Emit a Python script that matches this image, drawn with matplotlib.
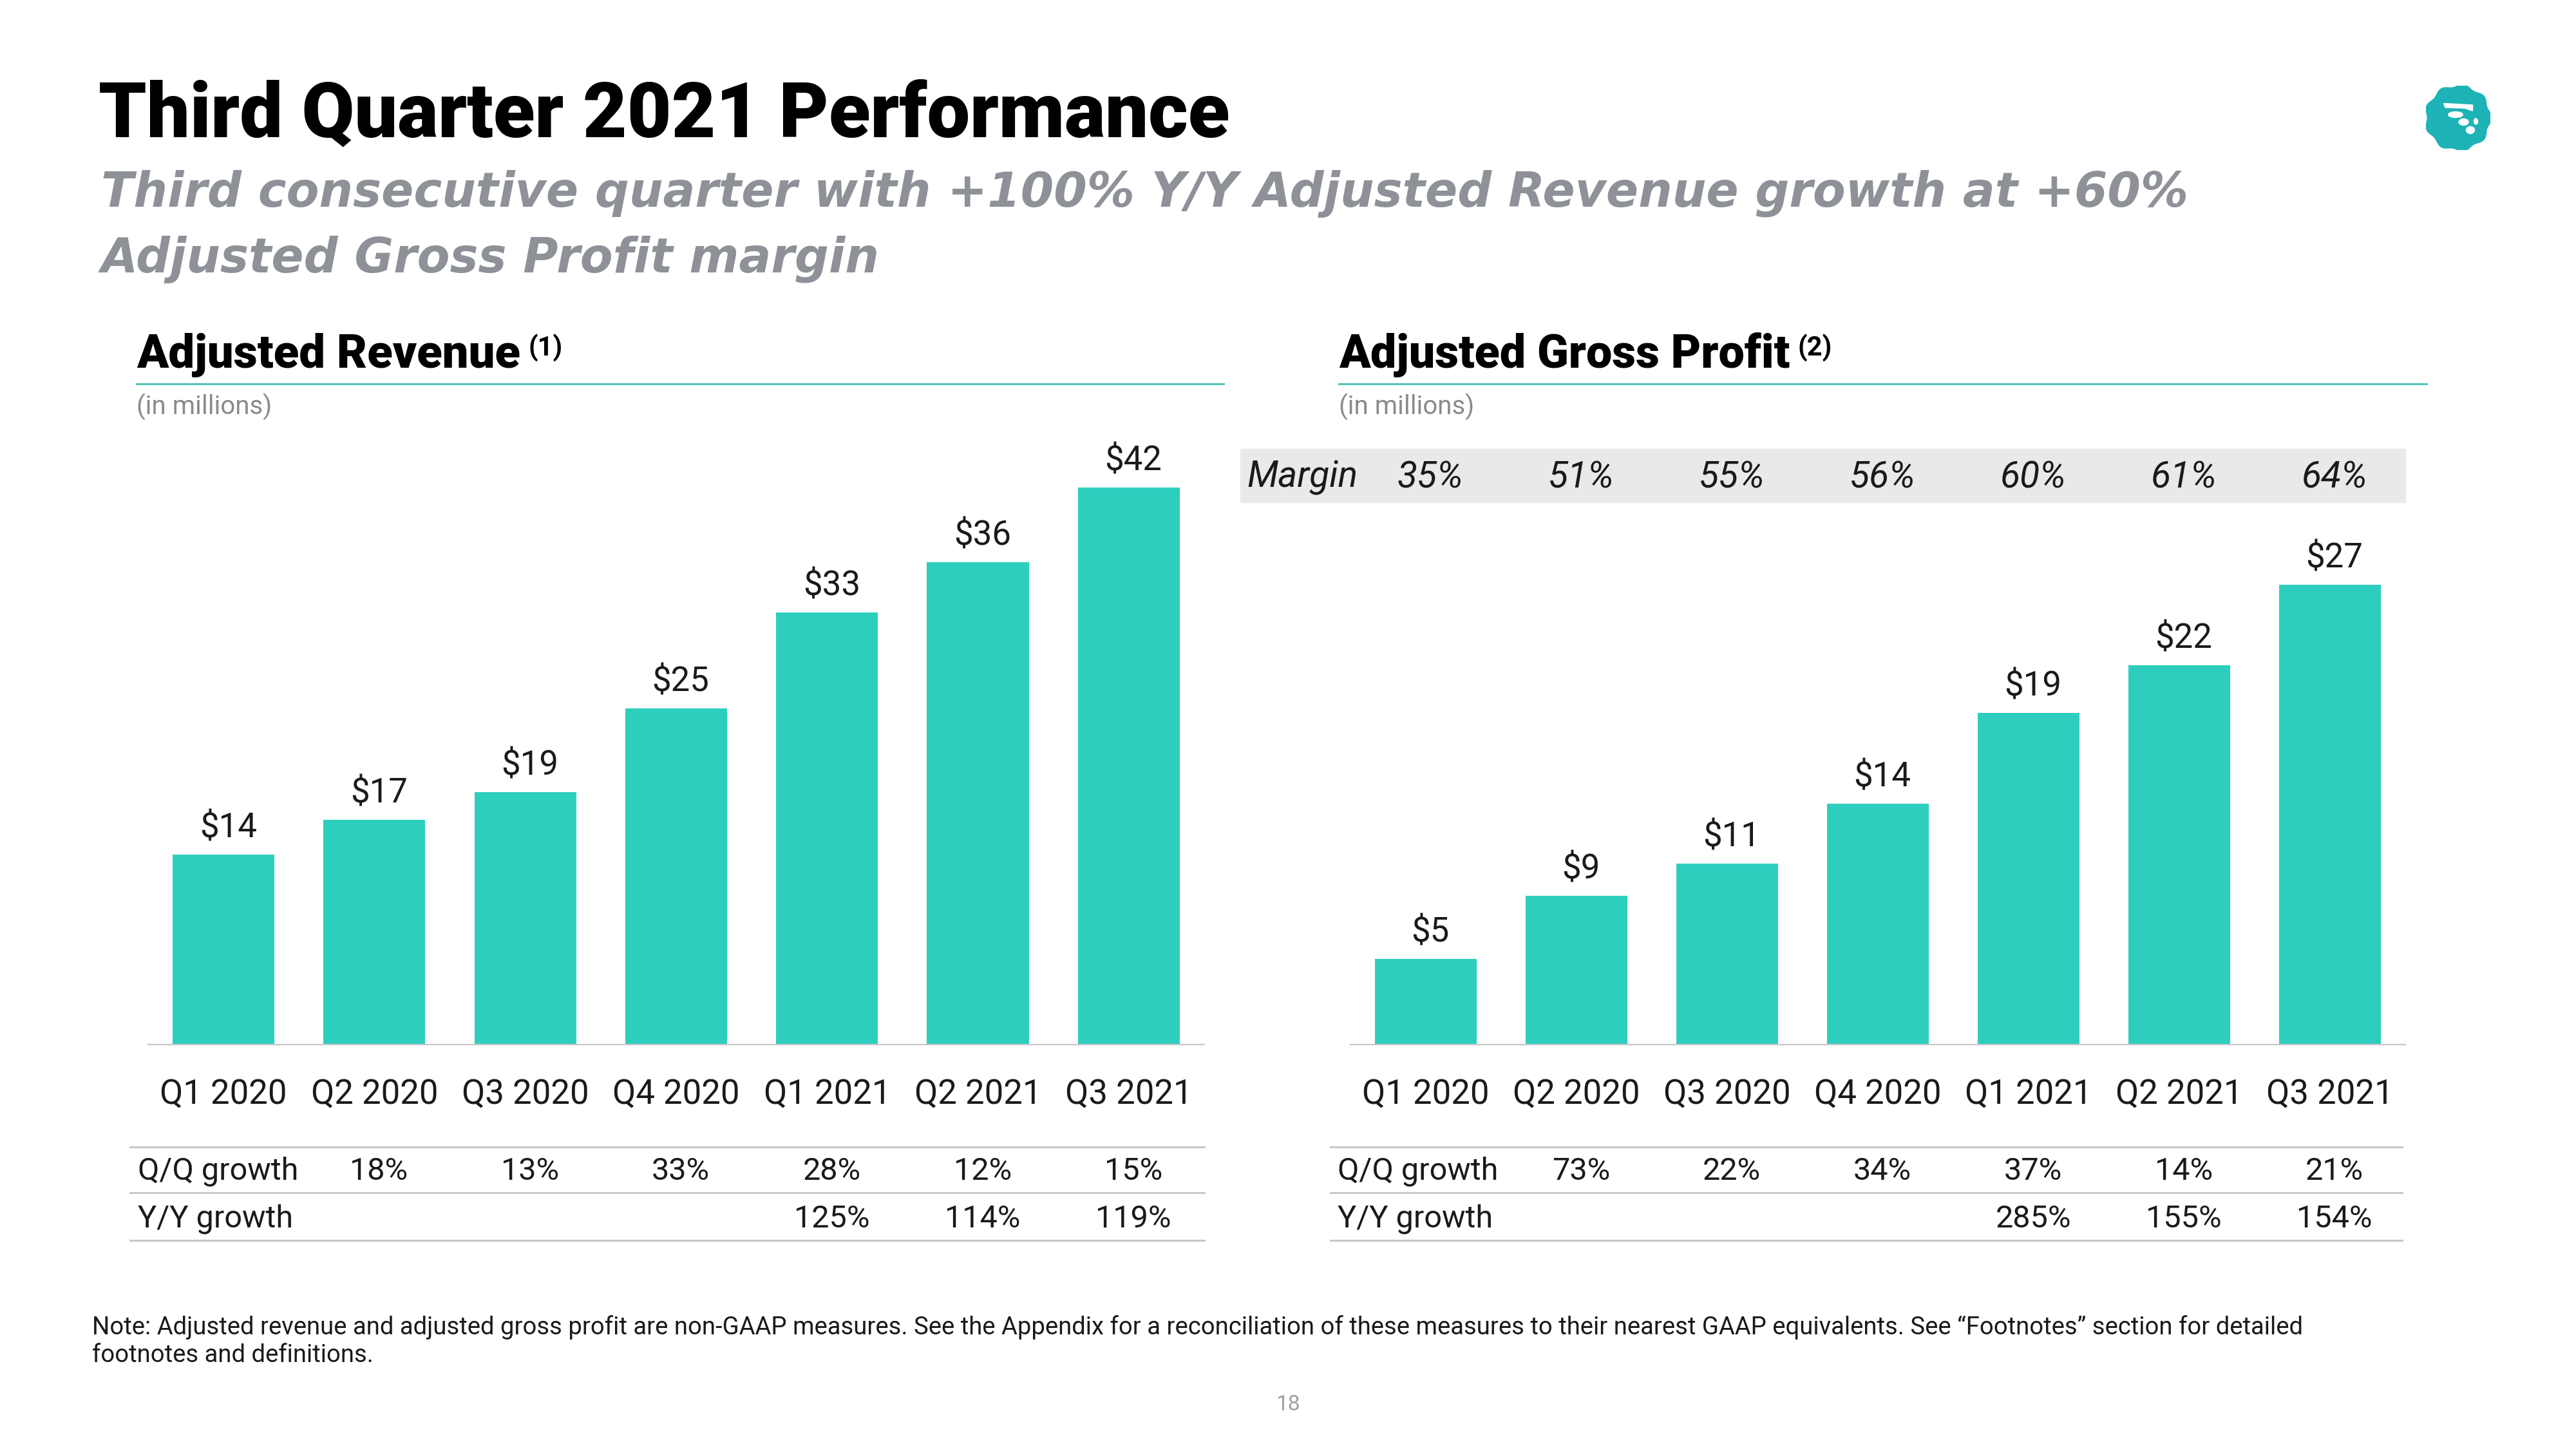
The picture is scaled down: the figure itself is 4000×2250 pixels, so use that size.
import numpy as np
import matplotlib
matplotlib.use('Agg')
import matplotlib.pyplot as plt
from matplotlib.transforms import blended_transform_factory
from matplotlib.patches import Rectangle, Polygon, Ellipse
from matplotlib.lines import Line2D

# Data
quarters = ['Q1 2020', 'Q2 2020', 'Q3 2020', 'Q4 2020', 'Q1 2021', 'Q2 2021', 'Q3 2021']
revenue = [14.3, 16.9, 19.0, 25.3, 32.5, 36.3, 41.9]
revenue_labels = ['$14', '$17', '$19', '$25', '$33', '$36', '$42']
rev_qq = ['', '18%', '13%', '33%', '28%', '12%', '15%']
rev_yy = ['', '', '', '', '125%', '114%', '119%']
gross_profit = [5.0, 8.7, 10.6, 14.1, 19.4, 22.2, 26.9]
gp_labels = ['$5', '$9', '$11', '$14', '$19', '$22', '$27']
gp_margin = ['35%', '51%', '55%', '56%', '60%', '61%', '64%']
gp_qq = ['', '73%', '22%', '34%', '37%', '14%', '21%']
gp_yy = ['', '', '', '', '285%', '155%', '154%']

BAR = '#2ECEBE'
TEAL_LINE = '#52C4B6'
GRID = '#C8C8C8'
TXT = '#1A1A1A'
GREY = '#8A8A8A'

plt.rcParams['font.family'] = ['Roboto', 'DejaVu Sans']

W, H = 4000, 2250
fig = plt.figure(figsize=(40, 22.5), dpi=100)
fig.patch.set_facecolor('white')


def fx(x):
    return x / W


def fy(y):
    return 1 - y / H


def fit_width(t, target):
    # scale a text so its rendered width matches the slide
    fig.canvas.draw()
    w = t.get_window_extent(fig.canvas.get_renderer()).width
    t.set_fontsize(t.get_fontsize() * target / w)
    return t.get_fontsize()


# Title block
title = fig.text(fx(153), fy(213), 'Third Quarter 2021 Performance', fontsize=86,
                 fontweight='black', color='black', va='baseline')
fit_width(title, 1758)
sub1 = fig.text(fx(157), fy(321), 'Third consecutive quarter with +100% Y/Y Adjusted Revenue growth at +60%',
                fontsize=56, fontweight='bold', style='italic', color='#8E9198', va='baseline',
                family=['DejaVu Sans'])
fs = fit_width(sub1, 3243)
fig.text(fx(157), fy(423), 'Adjusted Gross Profit margin',
         fontsize=fs, fontweight='bold', style='italic', color='#8E9198', va='baseline',
         family=['DejaVu Sans'])

# Logo
lax = fig.add_axes([fx(3767), fy(233), 100 / W, 100 / H])
lax.set_xlim(-1, 1)
lax.set_ylim(-1, 1)
lax.axis('off')
th = np.linspace(0, 2 * np.pi, 400)
r = 1 + 0.045 * np.cos(9 * th)
lax.add_patch(Polygon(np.c_[r * np.cos(th), r * np.sin(th)], closed=True, color='#1DB3B7'))
lax.add_patch(Polygon([[-0.45, 0.45], [0.45, 0.40], [0.45, 0.22], [0.2, 0.3], [-0.4, 0.32]],
                      closed=True, color='white'))
lax.add_patch(Ellipse((-0.08, 0.1), 0.45, 0.18, color='white'))
lax.add_patch(Ellipse((0.17, -0.13), 0.3, 0.2, color='white'))
lax.add_patch(Ellipse((0.55, -0.11), 0.12, 0.18, color='white'))
lax.add_patch(Ellipse((0.38, -0.38), 0.26, 0.22, color='white'))


def panel(left, right, ymax, values, labels, qq, yy, heading, sup, head_x, line_x1,
          tbl_x0, tbl_x1, row_x, head_w):
    ax = fig.add_axes([fx(left), fy(1622), (right - left) / W, ymax[1] / H])
    ax.set_xlim(-0.5, 6.5)
    ax.set_ylim(0, ymax[0])
    x = np.arange(len(values))
    ax.bar(x, values, width=0.675, color=BAR, zorder=2)
    for xi, v, lab in zip(x, values, labels):
        ax.annotate(lab, (xi + 0.03, v), xytext=(0, 11), textcoords='offset points',
                    ha='center', va='bottom', fontsize=38, color=TXT)
    for s in ['top', 'left', 'right']:
        ax.spines[s].set_visible(False)
    ax.spines['bottom'].set_color(GRID)
    ax.spines['bottom'].set_linewidth(1.6)
    ax.set_xticks([])
    ax.set_yticks([])
    ax.patch.set_alpha(0)

    tr = blended_transform_factory(ax.transData, fig.transFigure)
    for xi, q in zip(x, quarters):
        ax.text(xi, fy(1699), q, transform=tr, ha='center', va='center', fontsize=38, color=TXT)
    for xi, a, b in zip(x, qq, yy):
        ax.text(xi + 0.03, fy(1819), a, transform=tr, ha='center', va='center', fontsize=35, color=TXT)
        ax.text(xi + 0.03, fy(1893), b, transform=tr, ha='center', va='center', fontsize=35, color=TXT)
    fig.text(fx(row_x), fy(1819), 'Q/Q growth', ha='left', va='center', fontsize=35, color=TXT)
    fig.text(fx(row_x), fy(1893), 'Y/Y growth', ha='left', va='center', fontsize=35, color=TXT)
    for yl in [1781, 1852, 1926]:
        fig.add_artist(Line2D([fx(tbl_x0), fx(tbl_x1)], [fy(yl), fy(yl)], color=GRID, lw=2.2))

    # heading
    t = fig.text(fx(head_x), fy(571), heading, fontsize=50, fontweight='black', color='black',
                 va='baseline')
    fit_width(t, head_w)
    bb = t.get_window_extent(fig.canvas.get_renderer())
    fig.text(bb.x1 / W + 12 / W, fy(553), sup, fontsize=30, fontweight='bold', color='black',
             va='baseline')
    fig.add_artist(Line2D([fx(head_x), fx(line_x1)], [fy(596), fy(596)], color=TEAL_LINE, lw=2.2))
    fig.text(fx(head_x), fy(632), '(in millions)', fontsize=29, color=GREY, va='center')
    return ax, tr


ax1, tr1 = panel(230, 1870, (50, 50 * 20.64), revenue, revenue_labels, rev_qq, rev_yy,
                 'Adjusted Revenue', '(1)', 212, 1900, 202, 1870, 214, 597)
ax2, tr2 = panel(2097, 3735, (40, 40 * 26.55), gross_profit, gp_labels, gp_qq, gp_yy,
                 'Adjusted Gross Profit', '(2)', 2079, 3768, 2066, 3730, 2077, 702)

# Margin band
fig.add_artist(Rectangle((fx(1926), fy(780)), (3735 - 1926) / W, 83 / H,
                         transform=fig.transFigure, color='#E8E9EB', zorder=0))
fig.text(fx(1936), fy(742), 'Margin', fontsize=41, style='italic', color=TXT, va='center')
for xi, m in enumerate(gp_margin):
    ax2.text(xi + 0.03, fy(742), m, transform=tr2, ha='center', va='center', fontsize=41,
             style='italic', color=TXT)

# Footnote and page number
fig.text(fx(143), fy(2072),
         'Note: Adjusted revenue and adjusted gross profit are non-GAAP measures. See the Appendix for a '
         'reconciliation of these measures to their nearest GAAP equivalents. See \u201cFootnotes\u201d '
         'section for detailed', fontsize=27.5, color=TXT, va='baseline')
fig.text(fx(143), fy(2115), 'footnotes and definitions.', fontsize=27.5, color=TXT, va='baseline')
fig.text(fx(2000), fy(2181), '18', fontsize=24, color='#A0A0A0', ha='center', va='center')

fig.savefig('out.png', dpi=100, facecolor='white')
